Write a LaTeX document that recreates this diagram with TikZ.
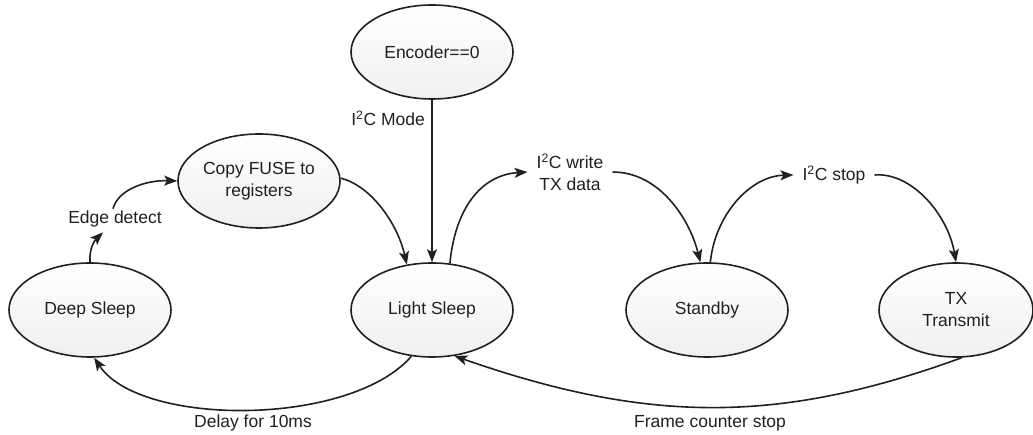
\documentclass[tikz,border=0pt]{standalone}
\usepackage{fontspec}
\setmainfont{Liberation Sans}
\usetikzlibrary{arrows.meta,shapes.geometric}
\definecolor{ink}{HTML}{231F20}
\definecolor{shadegray}{HTML}{EEF0F1}
\begin{document}
\begin{tikzpicture}[x=1pt,y=-1pt,
  state/.style={ellipse,draw=ink,line width=1.6pt,top color=white,bottom color=shadegray,
    minimum width=162pt,minimum height=94pt,inner sep=0pt,align=center,
    font=\fontsize{17.5}{22}\selectfont,text=ink},
  lbl/.style={font=\fontsize{17.5}{22}\selectfont,text=ink,align=center,inner xsep=9pt,inner ysep=2pt},
  conn/.style={draw=ink,line width=1.6pt,-{Stealth[length=13pt,width=10pt,inset=3pt]}}]
\useasboundingbox (0,0) rectangle (1033,435);

\node[state] (enc) at (432,52) {Encoder==0};
\node[state] (copy) at (259,181) {Copy FUSE to\\registers};
\node[state] (deep) at (90,310) {Deep Sleep};
\node[state] (light) at (432,310) {Light Sleep};
\node[state] (stand) at (707,310) {Standby};
\node[state,minimum width=154pt] (tx) at (956,310) {TX\\Transmit};

\node[lbl,anchor=east,inner xsep=0pt] (mode) at (425,118) {I\textsuperscript{2}C Mode};
\node[lbl] (edge) at (115,219) {Edge detect};
\node[lbl] (write) at (570,172) {I\textsuperscript{2}C write\\TX data};
\node[lbl] (stop) at (834,175) {I\textsuperscript{2}C stop};
\node[lbl] (delay) at (253,423) {Delay for 10ms};
\node[lbl] (frame) at (710,423) {Frame counter stop};

\draw[conn] (enc.south) -- (light.north);
\draw[conn] (copy.2) .. controls (372,186) and (398,225) .. (light.119);
\draw[conn] (deep.north) .. controls (89,248) and (95,240) .. ([xshift=-12pt,yshift=-3pt]edge.south);
\draw[conn] ([xshift=-2pt]edge.north) .. controls (118,190) and (145,180) .. (copy.west);
\draw[conn] (light.69) .. controls (455,210) and (480,175) .. (write.west);
\draw[conn] (write.east) .. controls (660,172) and (690,220) .. (stand.98);
\draw[conn] (stand.86) .. controls (715,215) and (750,176) .. (stop.west);
\draw[conn] (stop.east) .. controls (912,172) and (948,215) .. (tx.north);
\draw[conn] (light.246) .. controls (350,427) and (140,427) .. (deep.275);
\draw[conn] (tx.277) .. controls (780,424) and (649,424) .. (light.296);
\end{tikzpicture}
\end{document}
